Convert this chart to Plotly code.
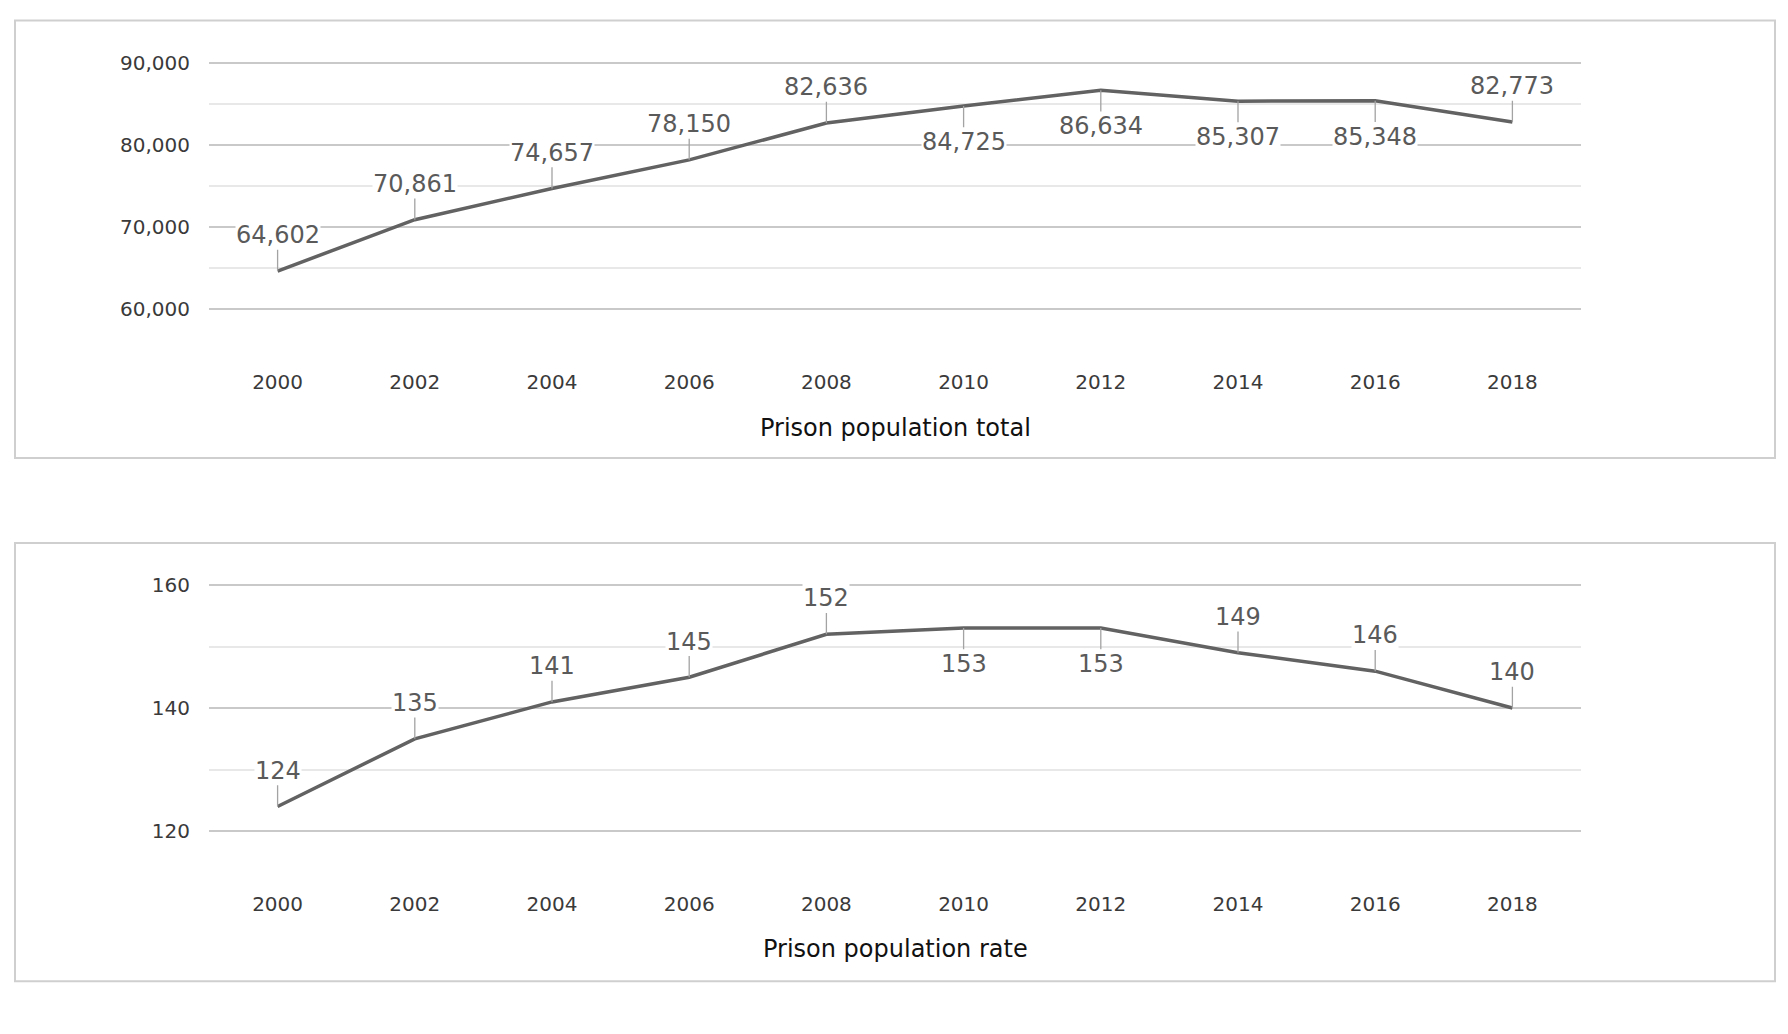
import plotly.graph_objects as go

# ---- data ----
years = ["2000", "2002", "2004", "2006", "2008", "2010", "2012", "2014", "2016", "2018"]
total = [64602, 70861, 74657, 78150, 82636, 84725, 86634, 85307, 85348, 82773]
rate = [124, 135, 141, 145, 152, 153, 153, 149, 146, 140]
total_ticks = [60000, 70000, 80000, 90000]
rate_ticks = [120, 140, 160]
total_label_side = ["above", "above", "above", "above", "above",
                    "below", "below", "below", "below", "above"]
rate_label_side = ["above", "above", "above", "above", "above",
                   "below", "below", "above", "above", "above"]
title_total = "Prison population total"
title_rate = "Prison population rate"

# ---- style ----
W, H = 1788, 1034
FONT = "DejaVu Sans"
LINE = "#626262"
LABEL = "#5a5a5a"
TICK = "#3a3a3a"
MAJOR = "#c9c9c9"
MINOR = "#e8e8e8"
BOX = "#cfcfcf"

# vertical calibration of the photographed page (screen px -> figure px)
Y_OFF, Y_K = 10.4, 0.98


def fx(p):
    return p / W


def fy(p):
    return 1 - ((p - Y_OFF) / Y_K) / H


def vpx(d):
    return d / Y_K


fig = go.Figure()
fig.add_trace(go.Scatter(x=years, y=total, mode="lines", xaxis="x", yaxis="y",
                         line=dict(color=LINE, width=3.5), hoverinfo="skip", showlegend=False))
fig.add_trace(go.Scatter(x=years, y=rate, mode="lines", xaxis="x2", yaxis="y2",
                         line=dict(color=LINE, width=3.5), hoverinfo="skip", showlegend=False))

xdom = [fx(209), fx(1581)]
PAD = 2  # px of padding so the end gridlines are not dropped


def xaxis_cfg(anchor):
    return dict(type="category", range=[-0.5, len(years) - 0.5], domain=xdom, anchor=anchor,
                showgrid=False, zeroline=False, showline=False, ticks="",
                tickfont=dict(family=FONT, size=20, color=TICK),
                ticklabelstandoff=round(vpx(56)), fixedrange=True)


def yaxis_cfg(anchor, lo, hi, top_px, bot_px, tickvals, minor_dtick, fmt):
    span = hi - lo
    per_px = span / (bot_px - top_px)
    rng = [lo - PAD * per_px, hi + PAD * per_px]
    dom = [fy(bot_px + PAD), fy(top_px - PAD)]
    return dict(range=rng, domain=dom, anchor=anchor, tickvals=tickvals, tickformat=fmt,
                showgrid=True, gridcolor=MAJOR, gridwidth=1.6, zeroline=False, showline=False,
                ticks="", tickfont=dict(family=FONT, size=20, color=TICK),
                ticklabelstandoff=18, fixedrange=True,
                minor=dict(dtick=minor_dtick, tick0=lo, showgrid=True,
                           gridcolor=MINOR, gridwidth=1.6))


fig.update_layout(
    width=W, height=H, margin=dict(l=0, r=0, t=0, b=0),
    paper_bgcolor="white", plot_bgcolor="white",
    font=dict(family=FONT),
    xaxis=xaxis_cfg("y"),
    yaxis=yaxis_cfg("x", 60000, 90000, 63, 309, total_ticks, 5000, ",d"),
    xaxis2=xaxis_cfg("y2"),
    yaxis2=yaxis_cfg("x2", 120, 160, 585, 831, rate_ticks, 10, "d"),
)

annotations = []


def add_labels(values, sides, xref, yref):
    off = vpx(35)
    for i, (v, side) in enumerate(zip(values, sides)):
        annotations.append(dict(
            x=i, y=v, xref=xref, yref=yref, text=f"{v:,}",
            showarrow=True, arrowhead=0, arrowwidth=1.3, arrowcolor="#a3a3a3",
            ax=0, ay=-off if side == "above" else off, standoff=0,
            bgcolor="white", borderpad=0,
            font=dict(family=FONT, size=24, color=LABEL)))


add_labels(total, total_label_side, "x", "y")
add_labels(rate, rate_label_side, "x2", "y2")

annotations.append(dict(text=title_total, x=0.5, xref="x domain", y=fy(428), yref="paper",
                        showarrow=False, xanchor="center", yanchor="middle",
                        font=dict(family=FONT, size=24, color="#111111")))
annotations.append(dict(text=title_rate, x=0.5, xref="x2 domain", y=fy(949), yref="paper",
                        showarrow=False, xanchor="center", yanchor="middle",
                        font=dict(family=FONT, size=24, color="#111111")))
fig.update_layout(annotations=annotations)

shapes = [
    dict(type="rect", xref="paper", yref="paper", x0=fx(15), x1=fx(1775), y0=fy(458), y1=fy(21),
         line=dict(color=BOX, width=2), fillcolor="rgba(0,0,0,0)", layer="below"),
    dict(type="rect", xref="paper", yref="paper", x0=fx(15), x1=fx(1775), y0=fy(981), y1=fy(543),
         line=dict(color=BOX, width=2), fillcolor="rgba(0,0,0,0)", layer="below"),
]
fig.update_layout(shapes=shapes)

fig.write_html("out.html", config={"displayModeBar": False},
               post_script="document.body.style.margin='0';document.body.style.overflow='hidden';")
